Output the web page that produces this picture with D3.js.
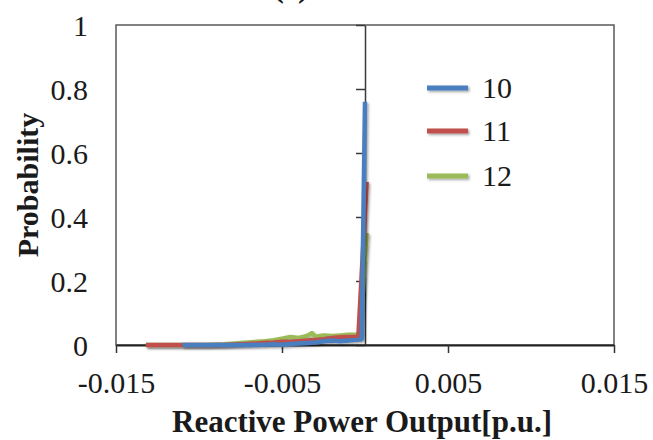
<!DOCTYPE html>
<html><head><meta charset="utf-8">
<script src="https://cdn.jsdelivr.net/npm/d3@7/dist/d3.min.js"></script>
<style>
html,body{margin:0;padding:0;background:#fff;}
svg{display:block;}
</style></head>
<body>
<svg id="chart" width="653" height="440"></svg>
<script>
// ---- data ----
const seriesNames = ["10", "11", "12"];
const seriesColors = ["#4a7ebf", "#c0504d", "#9bbb59"];

const x10 = [-0.011,-0.010,-0.009,-0.008,-0.007,-0.006,-0.0055,-0.005,-0.0045,-0.004,-0.0035,-0.003,-0.0025,-0.002,-0.0015,-0.001,-0.0005,-0.0002,0.0];
const y10 = [0,0,0,0,0,0.001,0.002,0.001,0.003,0.005,0.006,0.008,0.012,0.014,0.012,0.014,0.016,0.018,0.76];

const x11 = [-0.0132,-0.0125,-0.0115,-0.0105,-0.0095,-0.0085,-0.0075,-0.0065,-0.006,-0.0055,-0.005,-0.0045,-0.004,-0.0035,-0.003,-0.0025,-0.002,-0.0015,-0.001,-0.0005,-0.0004,0.0001];
const y11 = [0,0,0,0,0,0,0.002,0.005,0.007,0.008,0.01,0.01,0.012,0.014,0.016,0.018,0.022,0.024,0.025,0.026,0.026,0.51];

const x12 = [-0.0132,-0.0125,-0.0115,-0.0105,-0.0095,-0.0085,-0.008,-0.0075,-0.007,-0.0065,-0.006,-0.0055,-0.005,-0.0045,-0.004,-0.0035,-0.0032,-0.003,-0.0025,-0.002,-0.0015,-0.001,-0.0005,-0.0003,0.0001];
const y12 = [0,0,0,0,0,0.002,0.004,0.006,0.008,0.01,0.012,0.015,0.02,0.025,0.022,0.028,0.037,0.026,0.03,0.028,0.03,0.032,0.033,0.034,0.35];

const xTicks = [-0.015, -0.005, 0.005, 0.015];
const xTickLabels = ["-0.015", "-0.005", "0.005", "0.015"];
const yTicks = [0, 0.2, 0.4, 0.6, 0.8, 1];
const yTickLabels = ["0", "0.2", "0.4", "0.6", "0.8", "1"];

const titleText = "(c)";
const xTitle = "Reactive Power Output[p.u.]";
const yTitle = "Probability";

// ---- drawing ----
const svg = d3.select("#chart");
const pLeft = 116, pRight = 614, pTop = 25, pBottom = 345;
const x = d3.scaleLinear().domain([-0.015, 0.015]).range([pLeft, pRight]);
const y = d3.scaleLinear().domain([0, 1]).range([pBottom, pTop]);

const defs = svg.append("defs");
const f = defs.append("filter").attr("id", "shadow").attr("filterUnits", "userSpaceOnUse")
  .attr("x", 0).attr("y", 0).attr("width", 653).attr("height", 440);
f.append("feDropShadow").attr("dx", 1.5).attr("dy", 1.5).attr("stdDeviation", 1.2)
  .attr("flood-color", "#000").attr("flood-opacity", 0.35);

function txt(sel) {
  return sel.attr("font-family", "Liberation Serif").style("font-family", '"Liberation Serif"').style("fill", "#1a1a1a");
}

// title (mostly clipped at top, as in the original)
txt(svg.append("text")).attr("x", 291).attr("y", -3).attr("text-anchor", "middle")
  .style("font-size", "32px").style("font-weight", "bold").text(titleText);

// plot border
svg.append("rect").attr("x", pLeft).attr("y", pTop).attr("width", pRight - pLeft).attr("height", pBottom - pTop)
  .attr("fill", "none").attr("stroke", "#5a5a5a").attr("stroke-width", 1.5);

// y axis at x = 0
const yAxis = d3.axisLeft(y).tickValues(yTicks).tickSize(9).tickSizeOuter(0)
  .tickFormat((d, i) => yTickLabels[i]);
const gy = svg.append("g").attr("transform", `translate(${x(0)},0)`).call(yAxis);
gy.attr("font-family", null).attr("font-size", null);
gy.select(".domain").attr("stroke", "#3a3a3a").attr("stroke-width", 1.5);
gy.selectAll(".tick line").attr("stroke", "#3a3a3a").attr("stroke-width", 1.5);
txt(gy.selectAll(".tick text")).attr("x", 88 - x(0)).attr("dy", "0.34em").style("font-size", "30px");

// x axis
const xAxis = d3.axisBottom(x).tickValues(xTicks).tickSize(8).tickSizeOuter(0)
  .tickFormat((d, i) => xTickLabels[i]);
const gx = svg.append("g").attr("transform", `translate(0,${pBottom})`).call(xAxis);
gx.attr("font-family", null).attr("font-size", null);
gx.select(".domain").attr("stroke", "#222").attr("stroke-width", 1.8);
gx.selectAll(".tick line").attr("stroke", "#333").attr("stroke-width", 1.5);
txt(gx.selectAll(".tick text")).attr("y", 48).attr("dy", 0).style("font-size", "30px");

// axis titles
txt(svg.append("text")).attr("x", (pLeft + pRight) / 2 - 3).attr("y", 432).attr("text-anchor", "middle")
  .style("font-size", "31px").style("font-weight", "bold").text(xTitle);
txt(svg.append("text")).attr("transform", `translate(38,${(pTop + pBottom) / 2}) rotate(-90)`)
  .attr("text-anchor", "middle").style("font-size", "30px").style("font-weight", "bold").text(yTitle);

// series
const line = d3.line().x(d => x(d[0])).y(d => y(d[1]));
const series = [
  { name: seriesNames[0], color: seriesColors[0], pts: d3.zip(x10, y10) },
  { name: seriesNames[1], color: seriesColors[1], pts: d3.zip(x11, y11) },
  { name: seriesNames[2], color: seriesColors[2], pts: d3.zip(x12, y12) }
];
svg.append("g").selectAll("path").data(series.slice().reverse()).join("path")
  .attr("d", d => line(d.pts)).attr("fill", "none").attr("stroke", d => d.color)
  .attr("stroke-width", 4.5).attr("stroke-linejoin", "round").attr("filter", "url(#shadow)");

// legend
const leg = svg.append("g");
const legY = [88, 131, 176];
series.forEach((s, i) => {
  leg.append("line").attr("x1", 427).attr("x2", 468).attr("y1", legY[i]).attr("y2", legY[i])
    .attr("stroke", s.color).attr("stroke-width", 5).attr("filter", "url(#shadow)");
  txt(leg.append("text")).attr("x", 482).attr("y", legY[i] + 10).style("font-size", "30px").text(s.name);
});
</script>
</body></html>
